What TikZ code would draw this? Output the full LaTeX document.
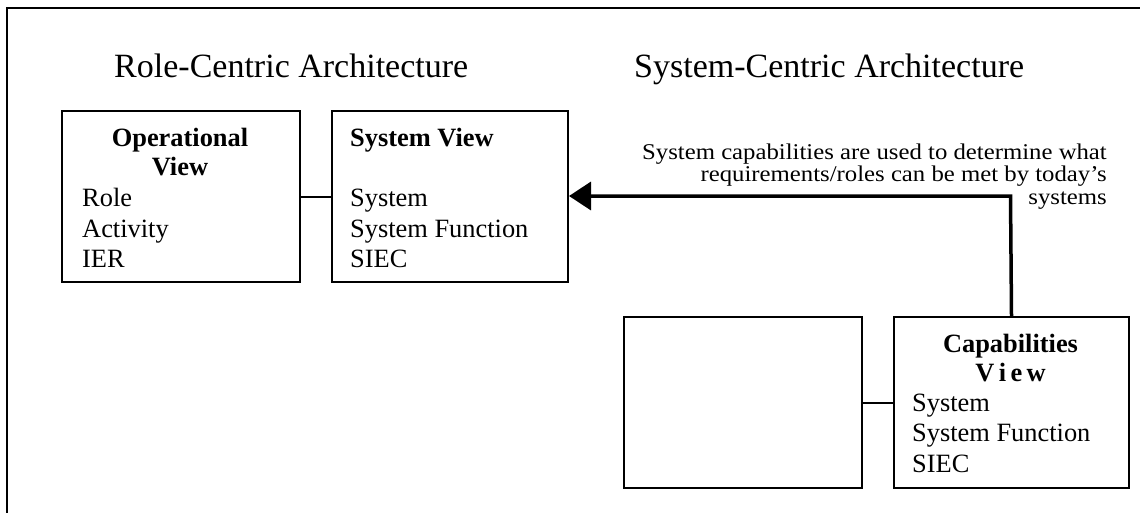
\documentclass[tikz,border=0pt]{standalone}
\usepackage{fontspec}
\setmainfont{Liberation Serif}
\usetikzlibrary{arrows.meta}
\begin{document}
\begin{tikzpicture}[x=1pt,y=-1pt,
  frameline/.style={line width=2pt, line cap=rect},
  box/.style={draw, line width=2pt, minimum width=238pt, minimum height=171pt, inner sep=0pt, anchor=north west},
  link/.style={line width=2pt},
  arrowline/.style={line width=3.5pt, -{Triangle[length=22pt,width=28pt]}},
  titletext/.style={font=\fontsize{34}{40}\selectfont, anchor=base west, inner sep=0pt},
  headtext/.style={font=\fontsize{26.4}{30}\selectfont\bfseries, inner sep=0pt},
  itemtext/.style={font=\fontsize{26.4}{30}\selectfont, anchor=base west, inner sep=0pt},
  notetext/.style={font=\fontsize{22.5}{22}\selectfont, anchor=base east, inner sep=0pt, xscale=1.1}]
\useasboundingbox (0,0) rectangle (1147,512);
% frame
\coordinate (fbl) at (7,512);
\coordinate (ftl) at (7,8);
\coordinate (ftr) at (1139,8);
\draw[frameline] (fbl) -- (ftl) -- (ftr);
% titles
\node[titletext] (t1) at (114,77) {Role-Centric Architecture};
\node[titletext] (t2) at (634,77) {System-Centric Architecture};
% boxes
\node[box] (op) at (61,110) {};
\node[box, minimum width=236pt] (sv) at (331,110) {};
\node[box] (em) at (623,316) {};
\node[box, minimum width=235pt] (cap) at (893,316) {};
% operational view text
\node[headtext, anchor=base] (oph1) at (180,146) {Operational};
\node[headtext, anchor=base] (oph2) at (180,175) {View};
\node[itemtext] (op1) at (82,206) {Role};
\node[itemtext] (op2) at (82,237) {Activity};
\node[itemtext] (op3) at (82,267) {IER};
% system view text
\node[headtext, anchor=base west] (svh) at (350,146) {System View};
\node[itemtext] (sv1) at (350,206) {System};
\node[itemtext] (sv2) at (350,237) {System Function};
\node[itemtext] (sv3) at (350,267) {SIEC};
% capabilities view text
\node[headtext, anchor=base] (caph1) at (1010.5,352.5) {Capabilities};
\node[headtext, anchor=base] (caph2) at (1010.5,381.5) {V\,i\,e\,w};
\node[itemtext] (cap1) at (912,411.5) {System};
\node[itemtext] (cap2) at (912,441.5) {System Function};
\node[itemtext] (cap3) at (912,472) {SIEC};
% connectors
\draw[link] (op.east) -- (sv.west);
\draw[link] (em.east) -- (cap.west);
\coordinate (corner) at (1010.5,196);
\draw[arrowline] (cap.north) -- (corner) -- (sv.east |- corner);
% note
\node[notetext] (n1) at (1107,159) {System capabilities are used to determine what};
\node[notetext] (n2) at (1107,181.5) {requirements/roles can be met by today’s};
\node[notetext] (n3) at (1107,204) {systems};
\end{tikzpicture}
\end{document}
